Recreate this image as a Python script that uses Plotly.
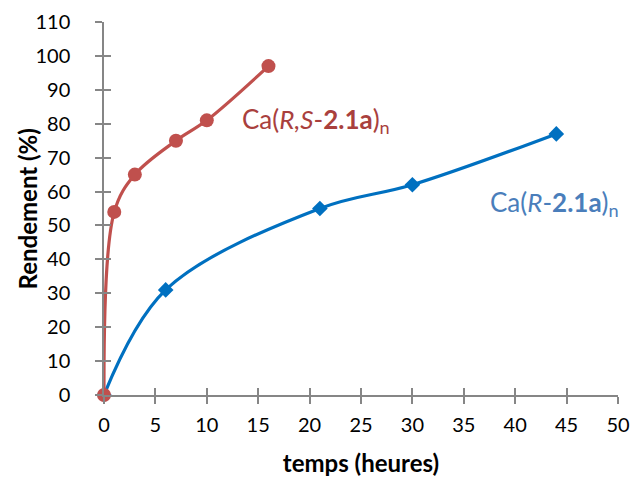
import plotly.graph_objects as go

# data
t_rs = [0, 1, 3, 7, 10, 16]
y_rs = [0, 54, 65, 75, 81, 97]
t_r = [0, 6, 21, 30, 44]
y_r = [0, 31, 55, 62, 77]

x_ticks = list(range(0, 51, 5))
y_ticks = list(range(0, 111, 10))

RED = "#C0504D"
BLUE = "#0070C0"
AXIS = "#868686"
FONT = "Lato"

fig = go.Figure()
fig.add_trace(go.Scatter(
    x=t_r, y=y_r, mode="lines+markers", line_shape="spline", cliponaxis=False,
    line=dict(color=BLUE, width=3.2),
    marker=dict(symbol="diamond", size=12, color=BLUE),
))
fig.add_trace(go.Scatter(
    x=t_rs, y=y_rs, mode="lines+markers", line_shape="spline", cliponaxis=False,
    line=dict(color=RED, width=3.2),
    marker=dict(symbol="circle", size=14, color=RED),
))

axis_common = dict(showgrid=False, zeroline=False, showline=True, automargin=False,
                   linecolor=AXIS, linewidth=1.5, tickcolor=AXIS,
                   tickwidth=1.5, ticklen=7)

fig.update_layout(
    width=633, height=477,
    paper_bgcolor="white", plot_bgcolor="white",
    margin=dict(l=104, r=15, t=22, b=82),
    showlegend=False,
    font=dict(family=FONT, size=20, color="black"),
    xaxis=dict(range=[0, 50], tickvals=x_ticks, ticks="outside", ticklabelstandoff=4,
               title=dict(text="<b>temps (heures)</b>", font=dict(size=24), standoff=20),
               **axis_common),
    yaxis=dict(range=[0, 110], tickvals=y_ticks, ticks="outside", ticklabelstandoff=21,
               **axis_common),
    # inside ticks so they cross the axis lines
    xaxis2=dict(range=[0, 50], tickvals=x_ticks, ticks="inside", overlaying="x",
                showticklabels=False, **axis_common),
    yaxis2=dict(range=[0, 110], tickvals=y_ticks, ticks="inside", overlaying="y",
                showticklabels=False, **axis_common),
)
fig.add_trace(go.Scatter(x=[None], y=[None], xaxis="x2", yaxis="y2", showlegend=False))

# y title as a rotated annotation so it sits where the reference has it
fig.add_annotation(x=-0.148, y=0.5, xref="paper", yref="paper", textangle=-90,
                   xanchor="center", yanchor="middle",
                   showarrow=False, text="<b>Rendement (%)</b>",
                   font=dict(size=24, color="black", family=FONT))

fig.add_annotation(x=13.2, y=81, xref="x", yref="y", xanchor="left", showarrow=False,
                   text="Ca(<i>R,S</i>-<b>2.1a</b>)<sub>n</sub>",
                   font=dict(size=26, color="#A9403D", family=FONT))
fig.add_annotation(x=37.4, y=56.5, xref="x", yref="y", xanchor="left", showarrow=False,
                   text="Ca(<i>R</i>-<b>2.1a</b>)<sub>n</sub>",
                   font=dict(size=26, color="#4A7EBB", family=FONT))

# drop the default page margin so the figure fills the window exactly
fig.write_html("out.html", config={"displayModeBar": False},
               post_script="document.body.style.margin='0';")
